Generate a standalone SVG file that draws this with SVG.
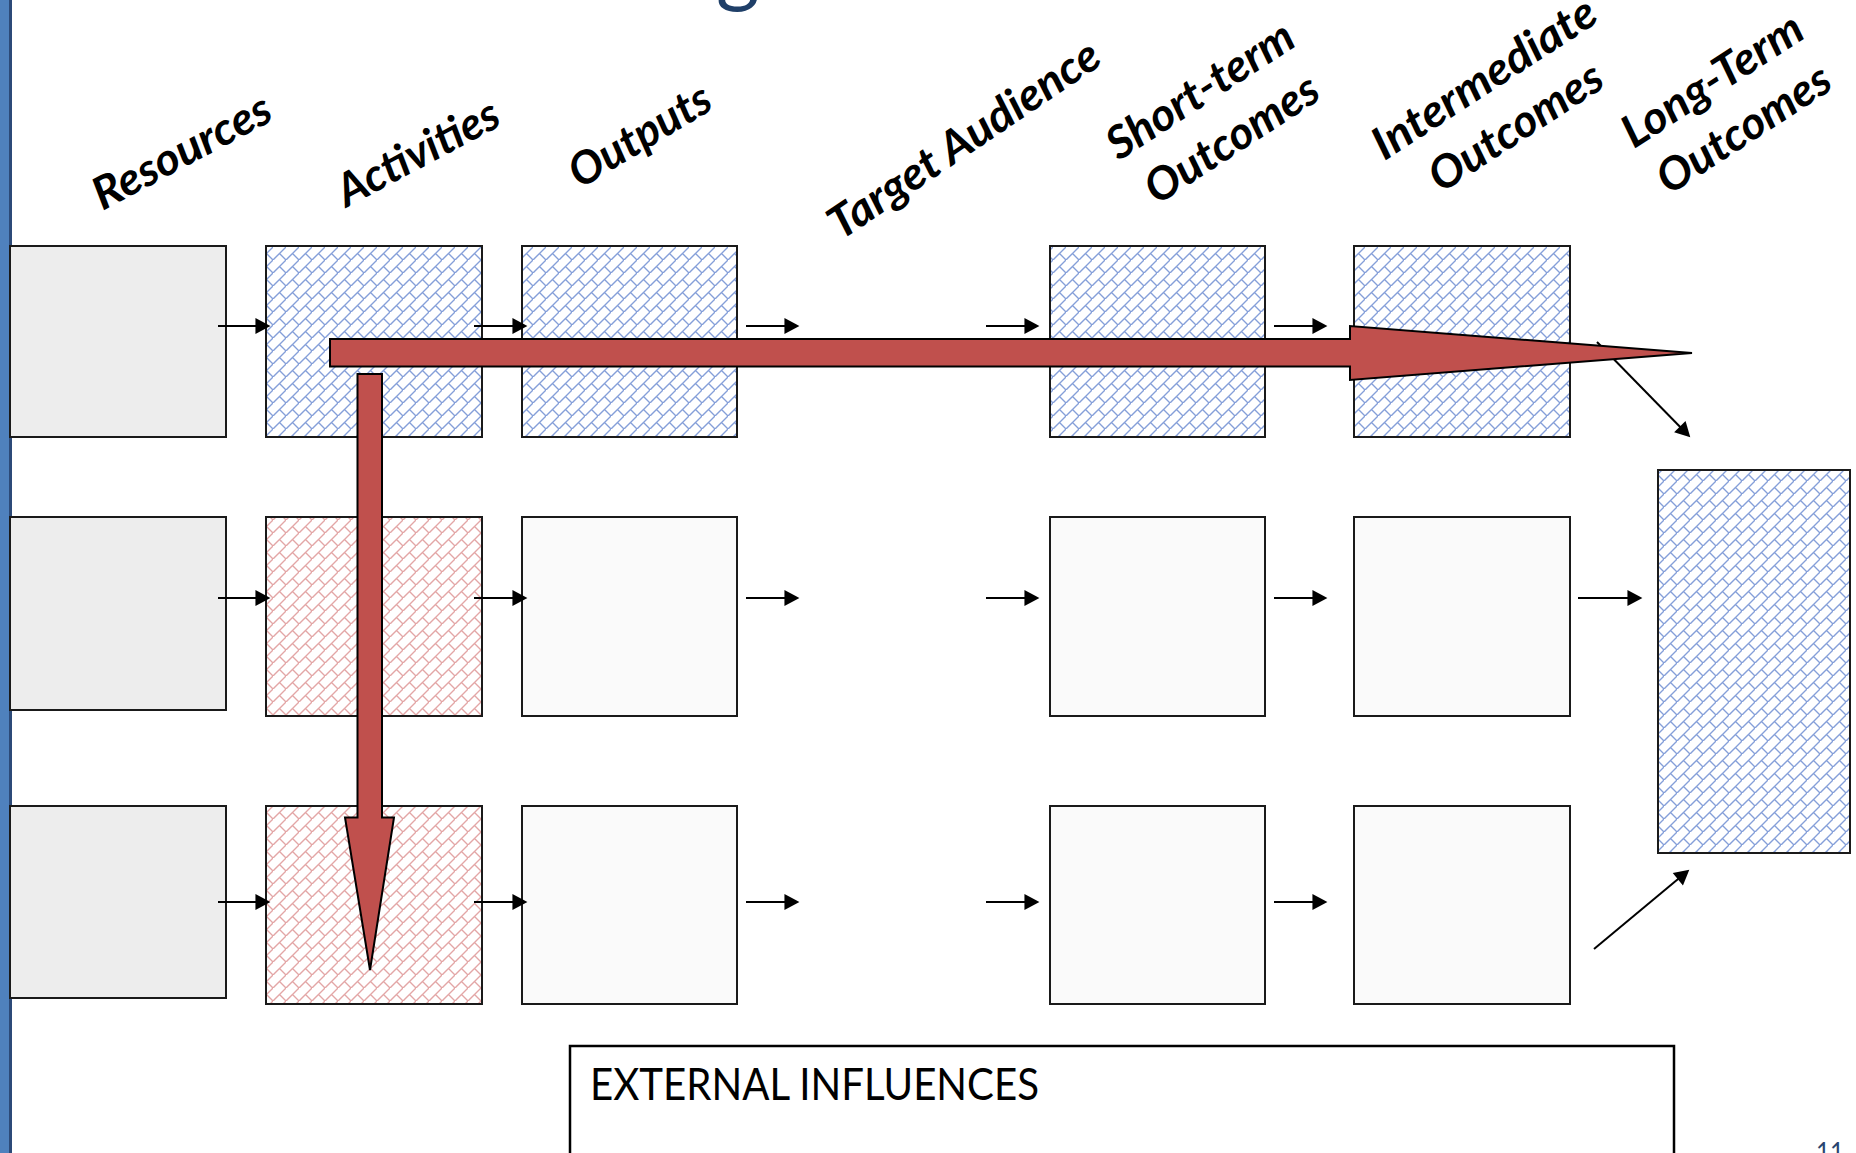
<svg xmlns="http://www.w3.org/2000/svg" width="1856" height="1153" viewBox="0 0 1856 1153">
  <defs>
    <style>
      .box { stroke: #1a1a1a; stroke-width: 2; }
      .res { fill: #ededed; }
      .plain { fill: #fafafa; }
      .blue { fill: url(#hatchBlue); }
      .red { fill: url(#hatchRed); }
      .hdr { font-family: Lato, "Liberation Sans", sans-serif; font-weight: bold; font-style: italic; font-size: 45px; fill: #000; text-anchor: middle; dominant-baseline: central; }
      .link { stroke: #000; stroke-width: 2; fill: none; marker-end: url(#head); }
      .big { fill: #c0504d; stroke: #000; stroke-width: 2; stroke-linejoin: miter; }
    </style>
    <!-- diagonal brick hatch -->
    <pattern id="hatchBlue" patternUnits="userSpaceOnUse" width="13" height="13">
      <rect width="13" height="13" fill="#ffffff"/>
      <path d="M-1,14 L14,-1 M6.5,6.5 L13,13" stroke="#859fd9" stroke-width="1.4" fill="none"/>
    </pattern>
    <pattern id="hatchRed" patternUnits="userSpaceOnUse" width="13" height="13">
      <rect width="13" height="13" fill="#ffffff"/>
      <path d="M-1,14 L14,-1 M6.5,6.5 L13,13" stroke="#e3a6a6" stroke-width="1.4" fill="none"/>
    </pattern>
    <marker id="head" markerUnits="userSpaceOnUse" markerWidth="16" markerHeight="16" viewBox="0 0 14 15" refX="8" refY="7.5" orient="auto">
      <path d="M0,0 L14,7.5 L0,15 Z" fill="#000"/>
    </marker>
  </defs>

  <rect width="1856" height="1153" fill="#ffffff"/>

  <!-- slide edge -->
  <g id="slide-edge">
    <rect x="0" y="0" width="9" height="1153" fill="#4f81bd"/>
    <rect x="9" y="0" width="3" height="1153" fill="#2c4a78"/>
  </g>

  <!-- title descender -->
  <text x="716" y="-4" font-family="Lato, 'Liberation Sans', sans-serif" font-size="84" fill="#1f3f68">g</text>

  <!-- column headers -->
  <g id="headers">
    <text class="hdr" transform="translate(181,150) rotate(-28)" textLength="196" lengthAdjust="spacingAndGlyphs">Resources</text>
    <text class="hdr" transform="translate(417,151) rotate(-28)" textLength="178" lengthAdjust="spacingAndGlyphs">Activities</text>
    <text class="hdr" transform="translate(639,134) rotate(-31)" textLength="158" lengthAdjust="spacingAndGlyphs">Outputs</text>
    <text class="hdr" transform="translate(963,138) rotate(-34)" textLength="318" lengthAdjust="spacingAndGlyphs">Target Audience</text>
    <g transform="translate(1215,113) rotate(-33)">
      <text class="hdr" x="0" y="-29" textLength="214" lengthAdjust="spacingAndGlyphs">Short-term</text>
      <text class="hdr" x="0" y="29" textLength="198" lengthAdjust="spacingAndGlyphs">Outcomes</text>
    </g>
    <g transform="translate(1499,101) rotate(-33)">
      <text class="hdr" x="0" y="-29" textLength="258" lengthAdjust="spacingAndGlyphs">Intermediate</text>
      <text class="hdr" x="0" y="29" textLength="198" lengthAdjust="spacingAndGlyphs">Outcomes</text>
    </g>
    <g transform="translate(1727,103) rotate(-33)">
      <text class="hdr" x="0" y="-29" textLength="207" lengthAdjust="spacingAndGlyphs">Long-Term</text>
      <text class="hdr" x="0" y="29" textLength="198" lengthAdjust="spacingAndGlyphs">Outcomes</text>
    </g>
  </g>

  <!-- row 1 -->
  <g id="res-1"><rect class="box res" x="10" y="246" width="216" height="191"/></g>
  <g id="act-1"><rect class="box blue" x="266" y="246" width="216" height="191"/></g>
  <g id="out-1"><rect class="box blue" x="522" y="246" width="215" height="191"/></g>
  <g id="short-1"><rect class="box blue" x="1050" y="246" width="215" height="191"/></g>
  <g id="inter-1"><rect class="box blue" x="1354" y="246" width="216" height="191"/></g>

  <!-- row 2 -->
  <g id="res-2"><rect class="box res" x="10" y="517" width="216" height="193"/></g>
  <g id="act-2"><rect class="box red" x="266" y="517" width="216" height="199"/></g>
  <g id="out-2"><rect class="box plain" x="522" y="517" width="215" height="199"/></g>
  <g id="short-2"><rect class="box plain" x="1050" y="517" width="215" height="199"/></g>
  <g id="inter-2"><rect class="box plain" x="1354" y="517" width="216" height="199"/></g>

  <!-- row 3 -->
  <g id="res-3"><rect class="box res" x="10" y="806" width="216" height="192"/></g>
  <g id="act-3"><rect class="box red" x="266" y="806" width="216" height="198"/></g>
  <g id="out-3"><rect class="box plain" x="522" y="806" width="215" height="198"/></g>
  <g id="short-3"><rect class="box plain" x="1050" y="806" width="215" height="198"/></g>
  <g id="inter-3"><rect class="box plain" x="1354" y="806" width="216" height="198"/></g>

  <!-- long-term outcome -->
  <g id="long-term"><rect class="box blue" x="1658" y="470" width="192" height="383"/></g>

  <!-- external influences panel -->
  <g id="external">
    <rect x="570" y="1046" width="1104" height="140" fill="#ffffff" stroke="#000" stroke-width="2.5"/>
    <text x="590" y="1100" font-family="Lato, 'Liberation Sans', sans-serif" font-size="44" fill="#000" textLength="449" lengthAdjust="spacingAndGlyphs">EXTERNAL INFLUENCES</text>
  </g>

  <!-- page number -->
  <text x="1816" y="1162" font-family="Lato, 'Liberation Sans', sans-serif" font-size="26" fill="#2a4570" textLength="28" lengthAdjust="spacingAndGlyphs">11</text>

  <g id="connectors">
    <!-- row 1 -->
    <line class="link" x1="218" y1="326" x2="264" y2="326"/>
    <line class="link" x1="474" y1="326" x2="521" y2="326"/>
    <line class="link" x1="746" y1="326" x2="793" y2="326"/>
    <line class="link" x1="986" y1="326" x2="1033" y2="326"/>
    <line class="link" x1="1274" y1="326" x2="1321" y2="326"/>
    <line class="link" x1="1597" y1="342" x2="1685.8" y2="432.7"/>
    <!-- row 2 -->
    <line class="link" x1="218" y1="598" x2="264" y2="598"/>
    <line class="link" x1="474" y1="598" x2="521" y2="598"/>
    <line class="link" x1="746" y1="598" x2="793" y2="598"/>
    <line class="link" x1="986" y1="598" x2="1033" y2="598"/>
    <line class="link" x1="1274" y1="598" x2="1321" y2="598"/>
    <line class="link" x1="1578" y1="598" x2="1636" y2="598"/>
    <!-- row 3 -->
    <line class="link" x1="218" y1="902" x2="264" y2="902"/>
    <line class="link" x1="474" y1="902" x2="521" y2="902"/>
    <line class="link" x1="746" y1="902" x2="793" y2="902"/>
    <line class="link" x1="986" y1="902" x2="1033" y2="902"/>
    <line class="link" x1="1274" y1="902" x2="1321" y2="902"/>
    <line class="link" x1="1594" y1="949" x2="1684.4" y2="873.8"/>
    <!-- broad flow arrows -->
    <path class="big" d="M330,339 L1350,339 L1350,326 L1692,353 L1350,380 L1350,366.5 L330,366.5 Z"/>
    <path class="big" d="M357.5,374 L382,374 L382,817.5 L394,817.5 L370,970 L345,817.5 L357.5,817.5 Z"/>
  </g>
</svg>
